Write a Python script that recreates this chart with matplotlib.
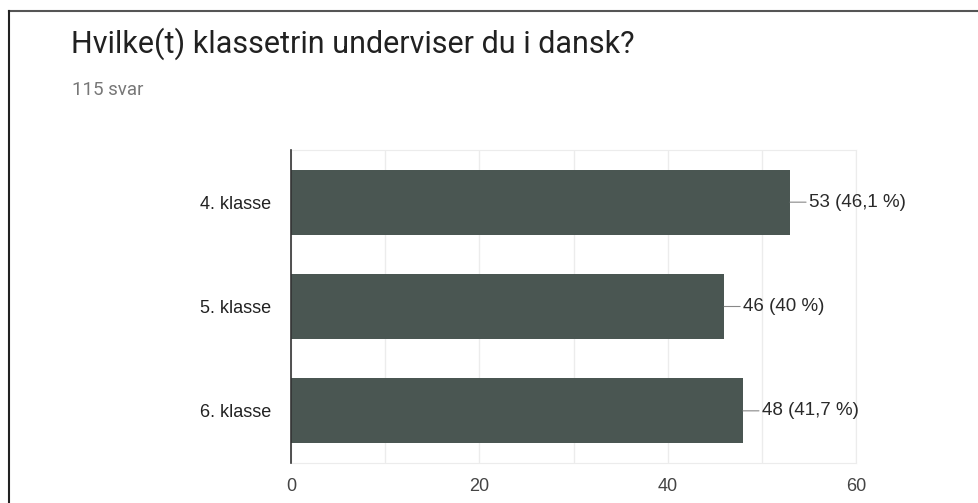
import matplotlib.pyplot as plt
from matplotlib.lines import Line2D

categories = ["4. klasse", "5. klasse", "6. klasse"]
counts = [53, 46, 48]
labels = ["53 (46,1 %)", "46 (40 %)", "48 (41,7 %)"]
title = "Hvilke(t) klassetrin underviser du i dansk?"
subtitle = "115 svar"

W, H = 979, 503
fig = plt.figure(figsize=(W / 100, H / 100), dpi=100)
fig.patch.set_facecolor("white")

# frame lines (top and left)
fig.add_artist(Line2D([9 / W, 1], [1 - 11 / H, 1 - 11 / H], color="#555555", lw=1.5))
fig.add_artist(Line2D([9 / W, 9 / W], [0, 1 - 11 / H], color="#222222", lw=1.5))

fig.text(71 / W, 1 - 53 / H, title, fontsize=22, family="Roboto", color="#212121")
fig.text(72 / W, 1 - 95 / H, subtitle, fontsize=13.5, family="Roboto", color="#777777")

ax = fig.add_axes([291 / W, 1 - 463 / H, (856 - 291) / W, (463 - 150) / H])
y = range(len(categories))
ax.barh(list(y), counts, height=0.62, color="#4a5652", zorder=3)

ax.set_xlim(0, 60)
ax.set_ylim(len(categories) - 0.5, -0.5)
ax.set_xticks([0, 20, 40, 60])
ax.set_xticks([10, 30, 50], minor=True)
ax.grid(axis="x", which="both", color="#ececec", lw=1, zorder=0)
ax.set_yticks(list(y))
ax.set_yticklabels(categories)

for s in ["top", "right", "bottom"]:
    ax.spines[s].set_color("#ececec")
ax.spines["left"].set_color("#333333")
ax.spines["left"].set_linewidth(1.2)
ax.spines["left"].set_zorder(4)

ax.tick_params(axis="y", length=0, pad=14, labelsize=13, labelcolor="#222222")
ax.tick_params(axis="x", which="both", length=0, pad=11, labelsize=13, labelcolor="#444444")
for t in ax.get_xticklabels() + ax.get_yticklabels():
    t.set_family("Liberation Sans")

for i, (v, lab) in enumerate(zip(counts, labels)):
    ax.annotate(lab, xy=(v, i), xytext=(13.5, 0), textcoords="offset points",
                va="center", ha="left", fontsize=13.5, family="Liberation Sans",
                color="#2a2a2a",
                arrowprops=dict(arrowstyle="-", color="#888888", lw=0.8,
                                shrinkA=0, shrinkB=0))

fig.savefig("out.png", dpi=100)
